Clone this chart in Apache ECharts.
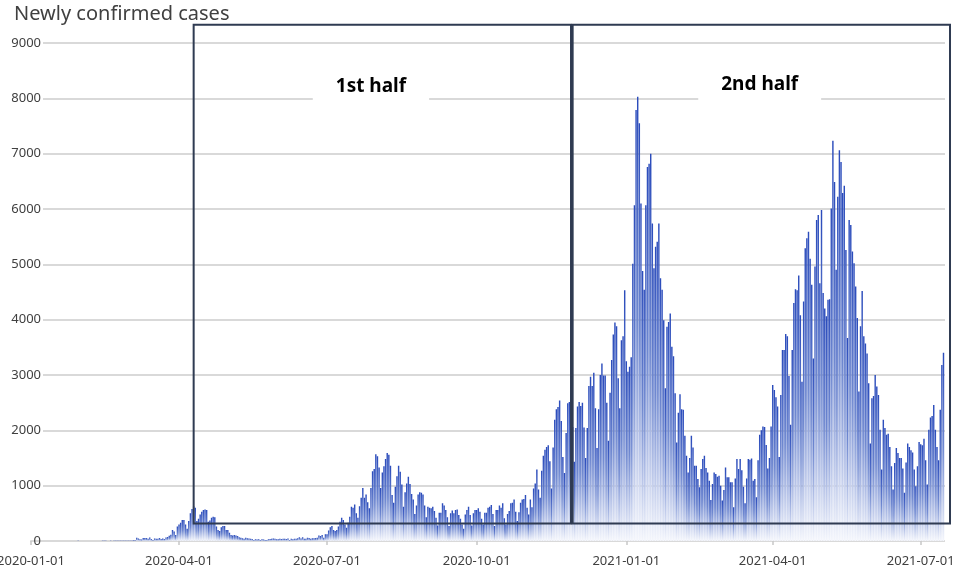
<!DOCTYPE html>
<html><head><meta charset="utf-8">
<script src="https://cdn.jsdelivr.net/npm/echarts@6/dist/echarts.min.js"></script>
<style>html,body{margin:0;padding:0;background:#fff}#c{width:957px;height:569px}</style>
</head><body><div id="c"></div>
<script>
const startDate = '2020-01-01';
const cases2020Jan = [0,0,0,0,0, 0,0,0,0,0, 0,0,0,0,0, 1,0,0,0,0, 0,0,0,1,1, 1,0,2,1,3, 2];
const cases2020Feb = [1,0,0,0,1, 0,0,0,0,0, 0,1,2,3,4, 3,2,2,3,2, 4,3,5,3,5, 6,5,6,4];
const cases2020Mar = [5,6,5,7,8, 59,47,33,26,54, 52,55,41,64,36, 15,44,39,39,53, 37,43,38,65,71, 96,112,200,170,110, 260];
const cases2020Apr = [300,330,380,380,300, 220,360,500,580,630, 600,360,400,480,530, 560,570,560,350,370, 420,440,430,260,200, 180,250,270,270,200];
const cases2020May = [200,150,110,100,110, 100,90,70,60,50, 40,60,50,45,40, 35,20,30,25,30, 20,30,25,20,20, 30,35,40,45,40, 30];
const cases2020Jun = [30,40,35,40,40, 35,45,15,40,30, 40,40,50,70,45, 70,40,40,60,55, 40,50,50,55,60, 100,90,110,60,120];
const cases2020Jul = [120,190,250,270,200, 180,200,260,350,420, 380,300,240,330,440, 620,600,660,500,420, 630,780,960,780,840, 700,590,960,1260,1300, 1570];
const cases2020Aug = [1530,1330,960,1240,1350, 1480,1590,1560,1360,830, 690,980,1170,1360,1250, 1020,620,880,1040,1160, 1030,850,750,490,640, 840,880,870,840,640, 430];
const cases2020Sep = [620,600,590,620,540, 420,280,510,510,680, 640,560,430,270,500, 550,500,560,570,470, 400,300,220,480,560, 620,470,280,500,560];
const cases2020Oct = [560,590,530,400,300, 510,510,600,620,650, 490,270,560,560,640, 600,680,410,300,490, 540,680,690,750,530, 360,520,690,750,760, 830];
const cases2020Nov = [600,480,750,610,950, 1040,1290,930,780,1270, 1540,1650,1700,1730,1440, 950,1690,2190,2380,2420, 2540,2170,1520,1230,1950, 2490,2510,2680,2060,1430];
const cases2020Dec = [2040,2430,2510,2440,2500, 2050,1500,2040,2800,2970, 2800,3040,2400,1680,2380, 3000,3210,2990,2990,2500, 1810,2680,3270,3730,3950, 3880,2940,2400,3630,3700, 4530];
const cases2021Jan = [3250,3060,3150,3320,5010, 6070,7790,8030,7550,6100, 4880,4540,6070,6760,6820, 7000,5740,4930,5320,5410, 5740,4750,4540,3990,2760, 3870,3960,4110,3510,3340, 2670];
const cases2021Feb = [1780,2320,2650,2380,2370, 1900,1540,1240,1500,1900, 1690,1360,1360,1120,970, 1300,1480,1540,1320,1240, 1090,740,1030,1240,1210, 1160,1180,1000];
const cases2021Mar = [730,920,1330,1150,1150, 1060,1060,610,1130,1480, 1300,1480,1280,980,680, 1130,1480,1470,1490,1090, 1120,790,1460,1920,2000, 2070,2060,1735,1310,1500, 2070];
const cases2021Apr = [2820,2730,2600,2430,1520, 2640,3450,3450,3740,3700, 2980,2100,3450,4300,4550, 4530,4800,4080,2880,4330, 5290,5470,5590,5100,4630, 3300,4960,5800,5890,4660];
const cases2021May = [5980,4480,4200,4060,4360, 4370,6010,7235,6490,4900, 6220,7060,6850,6290,6420, 5260,3670,5800,5710,5230, 5020,4600,4030,2700,3880, 4520,3700,3570,3390,2850, 1760];
const cases2021Jun = [2580,2620,3000,2790,2640, 2010,1290,2190,2040,1920, 1940,1700,1350,930,1410, 1680,1590,1500,1500,1310, 870,1420,1760,1700,1640, 1600,1290,990,1350,1790];
const cases2021Jul = [1750,1730,1850,1460,1020, 2010,2230,2260,2460,2010, 1700,1460,2370,3180,3400];

const tickLabels = ['2020-01-01','2020-04-01','2020-07-01','2020-10-01','2021-01-01','2021-04-01','2021-07-01'];
const yMin = 0, yMax = 9000, yStep = 1000;
const titleText = 'Newly confirmed cases';

const halfNames = ['1st half', '2nd half'];
const halfStart = ['2020-04-10', '2020-11-29'];
const halfEnd = ['2020-11-28', '2021-07-19'];
const halfLow = 315, halfHigh = 9330;
const halfLabelDate = ['2020-07-28', '2021-03-24'];
const halfLabelValue = [8205, 8240];

const values = [].concat(cases2020Jan, cases2020Feb, cases2020Mar, cases2020Apr, cases2020May, cases2020Jun,
  cases2020Jul, cases2020Aug, cases2020Sep, cases2020Oct, cases2020Nov, cases2020Dec,
  cases2021Jan, cases2021Feb, cases2021Mar, cases2021Apr, cases2021May, cases2021Jun, cases2021Jul);

const t0 = Date.parse(startDate + 'T00:00:00Z');
const dates = values.map((_, i) => new Date(t0 + i * 86400000).toISOString().slice(0, 10));
function dayIndex(s) { return Math.round((Date.parse(s + 'T00:00:00Z') - t0) / 86400000); }

const FONT = '"Noto Sans", "DejaVu Sans", sans-serif';
const chart = echarts.init(document.getElementById('c'), null, {renderer: 'canvas'});
const isTick = (idx, val) => tickLabels.indexOf(val) >= 0;

chart.setOption({
  animation: false,
  backgroundColor: '#fff',
  title: {text: titleText, left: 9, top: -1,
    textStyle: {fontFamily: FONT, fontSize: 20, fontWeight: 'normal', color: '#404040'}},
  grid: [
    {left: 31, right: 13.5, top: 43, bottom: 28, outerBoundsMode: 'none', containLabel: false},
    {left: 43, right: 12, top: 43, bottom: 28, outerBoundsMode: 'none', containLabel: false}
  ],
  xAxis: [
    {type: 'category', gridIndex: 0, data: dates, boundaryGap: false,
      axisLine: {lineStyle: {color: '#d9d9d9', width: 2}},
      axisTick: {show: true, interval: isTick, length: 4, lineStyle: {color: '#c8c8c8', width: 1.5}},
      axisLabel: {interval: isTick, color: '#404040', fontFamily: FONT, fontSize: 13, margin: 14,
        hideOverlap: false},
      splitLine: {show: false}},
    {type: 'value', gridIndex: 1, show: false, min: 0, max: 1}
  ],
  yAxis: [
    {type: 'value', gridIndex: 0, min: yMin, max: yMax, interval: yStep,
      axisLine: {show: false}, axisTick: {show: false}, splitLine: {show: false},
      axisLabel: {color: '#404040', fontFamily: FONT, fontSize: 13, margin: -10,
        formatter: v => String(v)}},
    {type: 'value', gridIndex: 1, min: yMin, max: yMax, interval: yStep,
      axisLine: {show: false}, axisTick: {show: false}, axisLabel: {show: false},
      splitLine: {show: true, lineStyle: {color: '#d9d9d9', width: 2}}}
  ],
  series: [{
    type: 'bar', xAxisIndex: 0, yAxisIndex: 0, data: values,
    barCategoryGap: '12%',
    itemStyle: {color: new echarts.graphic.LinearGradient(0, 0, 0, 1, [
      {offset: 0, color: '#2a4bbb'},
      {offset: 0.5, color: '#6f88d0'},
      {offset: 1, color: '#f4f6fc'}
    ])}
  }]
});

function px(date, v) { return chart.convertToPixel({gridIndex: 0}, [dayIndex(date), v]); }
const elems = [];
halfNames.forEach((name, i) => {
  const a = px(halfStart[i], halfHigh), b = px(halfEnd[i], halfLow);
  elems.push({type: 'rect', z: 100, shape: {x: a[0], y: a[1], width: b[0] - a[0], height: b[1] - a[1]},
    style: {fill: 'none', stroke: '#2f3b52', lineWidth: 2}});
  const c = px(halfLabelDate[i], halfLabelValue[i]);
  elems.push({type: 'text', z: 101, x: c[0], y: c[1],
    style: {text: name, fontFamily: FONT, fontSize: 19, fontWeight: 'bold', fill: '#000',
      align: 'center', verticalAlign: 'middle', backgroundColor: '#fff', padding: [6, 23]}});
});
chart.setOption({graphic: elems});
</script></body></html>
